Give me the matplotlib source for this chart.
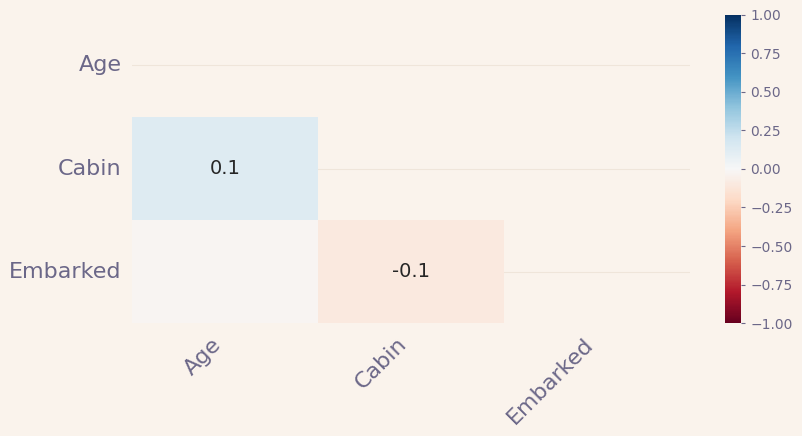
import numpy as np
import matplotlib
matplotlib.use("Agg")
import matplotlib.pyplot as plt
import seaborn as sns

# nullity correlation between columns with missing values
columns = ["Age", "Cabin", "Embarked"]
cabin_age = 0.13
embarked_age = -0.02
embarked_cabin = -0.1

corr = np.array([
    [1.0, cabin_age, embarked_age],
    [cabin_age, 1.0, embarked_cabin],
    [embarked_age, embarked_cabin, 1.0],
])

bg = "#faf3ec"
label_color = "#6b6788"

fig = plt.figure(figsize=(8.02, 4.36), dpi=100, facecolor=bg)
ax = fig.add_axes([0.1646, 0.259, 0.6957, 0.709])
cax = fig.add_axes([0.904, 0.259, 0.020, 0.707])
ax.set_facecolor(bg)

mask = np.triu(np.ones_like(corr, dtype=bool))
sns.heatmap(corr, mask=mask, cmap="RdBu", vmin=-1, vmax=1, annot=True,
            annot_kws={"size": 14}, ax=ax, cbar_ax=cax,
            xticklabels=columns, yticklabels=columns)

# hide near-zero annotations and round the rest (missingno style)
for t in ax.texts:
    v = float(t.get_text())
    if -0.05 < v < 0.05:
        t.set_text("")
    else:
        t.set_text(str(round(v, 1)))

ax.set_axisbelow(True)
ax.grid(True, axis="y", color="#efe5da", linewidth=0.8)
ax.grid(False, axis="x")
for s in ax.spines.values():
    s.set_visible(False)
ax.tick_params(length=0, labelsize=16, colors=label_color)
ax.tick_params(axis="y", pad=7.5)
ax.tick_params(axis="x", pad=8)
plt.setp(ax.get_xticklabels(), rotation=45, ha="right")
plt.setp(ax.get_yticklabels(), rotation=0)

cax.tick_params(labelsize=10, colors=label_color, length=3)
cax.set_yticks([-1, -0.75, -0.5, -0.25, 0, 0.25, 0.5, 0.75, 1])
cax.set_yticklabels(["\u22121.00", "\u22120.75", "\u22120.50", "\u22120.25", "0.00",
                     "0.25", "0.50", "0.75", "1.00"])
for s in cax.spines.values():
    s.set_visible(False)

fig.savefig("out.png", dpi=100, facecolor=bg)
